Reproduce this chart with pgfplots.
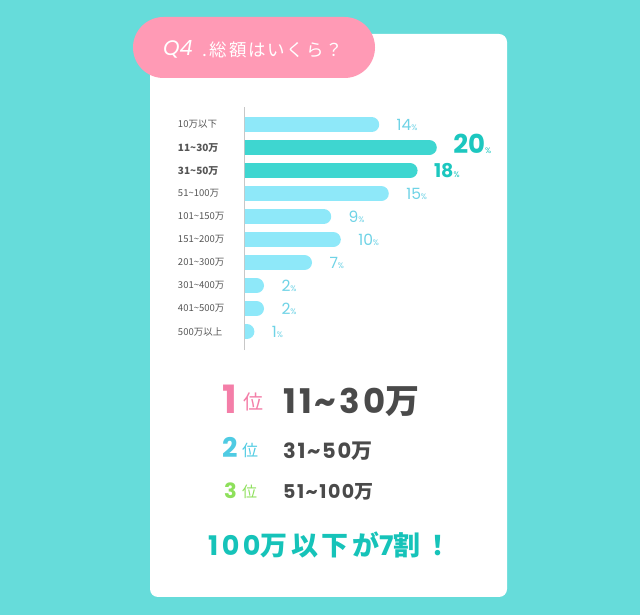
\documentclass[border=0pt]{standalone}
\usepackage{pgfplots}
\pgfplotsset{compat=1.18}
\usepackage{fontspec}
\setmainfont{Noto Sans CJK JP}
\newfontfamily\jp{Noto Sans CJK JP}
\newfontfamily\pop{Poppins}
\definecolor{bgc}{HTML}{66DCDA}
\definecolor{pinkb}{HTML}{FF9AB5}
\definecolor{lightbar}{HTML}{8EE8F9}
\definecolor{tealbar}{HTML}{3ED6D0}
\definecolor{lightnum}{HTML}{6FD3E6}
\definecolor{tealnum}{HTML}{1CC7BF}
\definecolor{darktxt}{HTML}{4A4A4A}
\definecolor{ticktxt}{HTML}{555555}
\definecolor{rankone}{HTML}{F47EA8}
\definecolor{ranktwo}{HTML}{4FCBE3}
\definecolor{rankthree}{HTML}{8EE05B}
\definecolor{finaltxt}{HTML}{16C3B9}
\begin{document}
\begin{tikzpicture}[x=1pt,y=1pt]
\fill[bgc] (0,0) rectangle (640,615);
\fill[white, rounded corners=8pt] (150,18) rectangle (507,581);
\fill[pinkb, rounded corners=30.5pt] (133,537) rectangle (375,598);
% title
\node[anchor=base west, inner sep=0pt, text=white, font=\pop\itshape\fontsize{21}{21}\selectfont] at (163,559) {Q4};
\node[anchor=west, inner sep=0pt, text=white, font=\jp\fontsize{17.5}{18}\selectfont\addfontfeature{LetterSpace=10}] at (202,565) {.\,総額はいくら？};
\begin{axis}[
  at={(255,1152)}, anchor=south west,
  scale only axis, width=251.7pt, height=242.65pt,
  xmin=0.78, xmax=27, ymin=-9.8, ymax=0.75,
  axis x line=none, axis y line*=left,
  y axis line style={draw=black!22, line width=1pt, -},
  ytick={-9,-8,...,0},
  yticklabels={500万以上,401\textasciitilde500万,301\textasciitilde400万,201\textasciitilde300万,151\textasciitilde200万,101\textasciitilde150万,51\textasciitilde100万,{\bfseries\fontsize{10}{10}\selectfont 31\textasciitilde50万},{\bfseries\fontsize{10}{10}\selectfont 11\textasciitilde30万},10万以下},
  ytick style={draw=none},
  yticklabel style={anchor=west, xshift=-67pt, inner sep=0pt, text=ticktxt, font=\jp\fontsize{9.5}{10}\selectfont},
  clip mode=individual,
  point meta=x,
]
\addplot[xcomb, draw=lightbar, line width=15pt, line cap=round,
  nodes near coords={\pgfmathprintnumber[assume math mode=true,fixed,precision=0]{\pgfplotspointmeta}{\fontsize{8}{8}\selectfont\%}},
  every node near coord/.style={anchor=west, xshift=17.5pt, inner sep=0pt, text=lightnum, font=\pop\fontsize{15.5}{16}\selectfont}]
  table {
x y
14 0
15 -3
9 -4
10 -5
7 -6
2 -7
2 -8
1 -9
};
\addplot[xcomb, draw=tealbar, line width=15pt, line cap=round,
  nodes near coords={\pgfmathprintnumber[assume math mode=true,fixed,precision=0]{\pgfplotspointmeta}{\fontsize{8}{8}\selectfont\mdseries\%}},
  every node near coord/.style={anchor=west, xshift=16.5pt, yshift=4pt, inner sep=0pt, text=tealnum, font=\pop\bfseries\fontsize{26}{26}\selectfont}]
  table {
x y
20 -1
};
\addplot[xcomb, draw=tealbar, line width=15pt, line cap=round,
  nodes near coords={\pgfmathprintnumber[assume math mode=true,fixed,precision=0]{\pgfplotspointmeta}{\fontsize{8}{8}\selectfont\mdseries\%}},
  every node near coord/.style={anchor=west, xshift=16.5pt, inner sep=0pt, text=tealnum, font=\pop\bfseries\fontsize{19}{19}\selectfont}]
  table {
x y
18 -2
};
\end{axis}
% ranking
\node[anchor=west, inner sep=0pt, text=rankone, font=\pop\bfseries\fontsize{39}{39}\selectfont] at (222,216) {1};
\node[anchor=west, inner sep=0pt, text=rankone, font=\jp\fontsize{20}{20}\selectfont] at (243,213) {位};
\node[anchor=west, inner sep=0pt, text=darktxt, font=\pop\bfseries\fontsize{34}{34}\selectfont\addfontfeature{LetterSpace=9}] at (283,213) {11\textasciitilde30{\jp\bfseries\addfontfeature{LetterSpace=9}万}};
\node[anchor=west, inner sep=0pt, text=ranktwo, font=\pop\bfseries\fontsize{27}{27}\selectfont] at (222,167.5) {2};
\node[anchor=west, inner sep=0pt, text=ranktwo, font=\jp\fontsize{16}{16}\selectfont] at (242,165) {位};
\node[anchor=west, inner sep=0pt, text=darktxt, font=\pop\bfseries\fontsize{21}{21}\selectfont\addfontfeature{LetterSpace=8}] at (283,164) {31\textasciitilde50{\jp\bfseries\addfontfeature{LetterSpace=8}万}};
\node[anchor=west, inner sep=0pt, text=rankthree, font=\pop\bfseries\fontsize{21}{21}\selectfont] at (224,124.5) {3};
\node[anchor=west, inner sep=0pt, text=rankthree, font=\jp\fontsize{15}{15}\selectfont] at (242,123) {位};
\node[anchor=west, inner sep=0pt, text=darktxt, font=\pop\bfseries\fontsize{19}{19}\selectfont\addfontfeature{LetterSpace=8}] at (283,123.5) {51\textasciitilde100{\jp\bfseries\addfontfeature{LetterSpace=8}万}};
\node[anchor=west, inner sep=0pt, text=finaltxt, font=\pop\bfseries\fontsize{27}{27}\selectfont\addfontfeature{LetterSpace=13}] at (208,70) {100{\jp\bfseries\addfontfeature{LetterSpace=13}万以下が}7{\jp\bfseries\addfontfeature{LetterSpace=13}割！}};
\end{tikzpicture}
\end{document}
